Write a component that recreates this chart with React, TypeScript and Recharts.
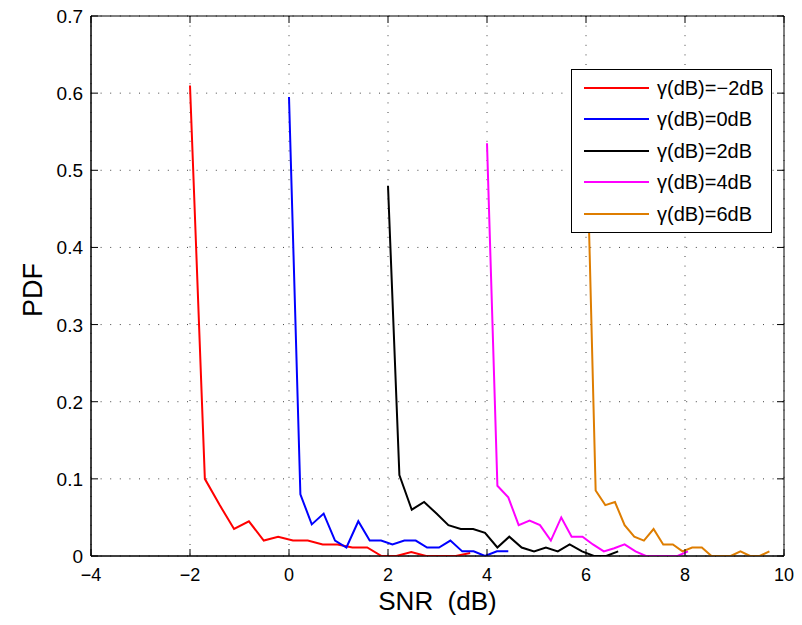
import React from "react";
import { LineChart, Line, XAxis, YAxis, CartesianGrid, Legend, ReferenceArea, Label } from "recharts";

// ---- data ----
const redX = [-2, -1.7, -1.4, -1.11, -0.81, -0.51, -0.22, 0.08, 0.38, 0.68, 0.98, 1.28, 1.58, 1.87, 2.17, 2.47, 2.77, 3.07, 3.37, 3.66];
const redY = [0.61, 0.1, 0.066, 0.035, 0.045, 0.02, 0.025, 0.02, 0.02, 0.015, 0.015, 0.011, 0.011, 0, 0, 0.005, 0, 0, 0, 0.004];

const blueX = [0, 0.23, 0.46, 0.7, 0.93, 1.16, 1.4, 1.63, 1.86, 2.09, 2.33, 2.56, 2.79, 3.03, 3.26, 3.5, 3.73, 3.96, 4.2, 4.43];
const blueY = [0.595, 0.08, 0.041, 0.055, 0.02, 0.011, 0.045, 0.02, 0.02, 0.015, 0.02, 0.02, 0.011, 0.011, 0.02, 0.006, 0.006, 0, 0.006, 0.006];

const blackX = [2.0, 2.23, 2.48, 2.73, 2.98, 3.22, 3.47, 3.72, 3.96, 4.21, 4.45, 4.7, 4.95, 5.19, 5.43, 5.67, 5.92, 6.16, 6.41, 6.65];
const blackY = [0.48, 0.105, 0.06, 0.07, 0.055, 0.04, 0.035, 0.035, 0.03, 0.011, 0.025, 0.011, 0.006, 0.011, 0.006, 0.015, 0.006, 0, 0, 0.006];

const magentaX = [4.0, 4.21, 4.43, 4.64, 4.86, 5.07, 5.29, 5.5, 5.71, 5.93, 6.14, 6.36, 6.57, 6.78, 7.0, 7.21, 7.42, 7.64, 7.85, 8.06];
const magentaY = [0.535, 0.091, 0.076, 0.04, 0.046, 0.04, 0.02, 0.05, 0.025, 0.025, 0.015, 0.006, 0.01, 0.015, 0.006, 0, 0, 0, 0, 0.006];

const orangeX = [6.0, 6.195, 6.39, 6.585, 6.78, 6.975, 7.17, 7.365, 7.56, 7.755, 7.95, 8.145, 8.34, 8.535, 8.73, 8.925, 9.12, 9.315, 9.51, 9.705];
const orangeY = [0.58, 0.085, 0.066, 0.07, 0.04, 0.025, 0.02, 0.035, 0.015, 0.015, 0.006, 0.011, 0.011, 0, 0, 0, 0.006, 0, 0, 0.006];

const xTicks = [-4, -2, 0, 2, 4, 6, 8, 10];
const yTicks = [0, 0.1, 0.2, 0.3, 0.4, 0.5, 0.6, 0.7];

const seriesNames = ["\u03b3(dB)=\u22122dB", "\u03b3(dB)=0dB", "\u03b3(dB)=2dB", "\u03b3(dB)=4dB", "\u03b3(dB)=6dB"];
const seriesColors = ["#ff0000", "#0000ff", "#000000", "#ff00ff", "#de7d00"];

const zip = (xs: number[], ys: number[]) => xs.map((x, i) => ({ x, y: ys[i] }));
const seriesData = [zip(redX, redY), zip(blueX, blueY), zip(blackX, blackY), zip(magentaX, magentaY), zip(orangeX, orangeY)];

// ---- layout ----
const W = 802;
const H = 625;
const PLOT = { left: 91, top: 16, right: 784, bottom: 556 };
const FONT = "'Liberation Sans', Arial, Helvetica, sans-serif";
const TICK_LEN = 7;

const fmt = (v: number) => (v < 0 ? "\u2212" + Math.abs(v) : String(Math.round(v * 10) / 10));

const XTick = (props: any) => {
  const { x, payload } = props;
  return (
    <g>
      <line x1={x} x2={x} y1={PLOT.bottom} y2={PLOT.bottom - TICK_LEN} stroke="#000" />
      <line x1={x} x2={x} y1={PLOT.top} y2={PLOT.top + TICK_LEN} stroke="#000" />
      <text x={x} y={581} textAnchor="middle" fontFamily={FONT} fontSize={18} fill="#000">
        {fmt(payload.value)}
      </text>
    </g>
  );
};

const YTick = (props: any) => {
  const { y, payload } = props;
  return (
    <g>
      <line x1={PLOT.left} x2={PLOT.left + TICK_LEN} y1={y} y2={y} stroke="#000" />
      <line x1={PLOT.right} x2={PLOT.right - TICK_LEN} y1={y} y2={y} stroke="#000" />
      <text x={83} y={y + 7} textAnchor="end" fontFamily={FONT} fontSize={19} fill="#000">
        {fmt(payload.value)}
      </text>
    </g>
  );
};

const renderLegend = () => (
  <div
    style={{
      boxSizing: "border-box",
      width: 201,
      height: 164,
      border: "1px solid #000",
      background: "#fff",
      paddingTop: 2,
      fontFamily: FONT,
      fontSize: 20,
      color: "#000",
    }}
  >
    {seriesNames.map((name, i) => (
      <div key={name} style={{ display: "flex", alignItems: "center", height: 31.5 }}>
        <span style={{ display: "inline-block", width: 65, height: 2, marginLeft: 12, background: seriesColors[i] }} />
        <span style={{ marginLeft: 8, lineHeight: "20px" }}>{name}</span>
      </div>
    ))}
  </div>
);

export default function App() {
  return (
    <div style={{ position: "absolute", left: 0, top: 0, width: W, height: H, background: "#fff" }}>
      <LineChart width={W} height={H} margin={{ top: PLOT.top, right: W - PLOT.right, left: 0, bottom: 0 }}>
        <CartesianGrid stroke="#444" strokeDasharray="1 8.6" />
        <XAxis
          type="number"
          dataKey="x"
          domain={[-4, 10]}
          ticks={xTicks}
          allowDataOverflow
          height={H - PLOT.bottom}
          tickLine={false}
          axisLine={{ stroke: "#000" }}
          tick={<XTick />}
          interval={0}
        >
          <Label
            content={(p: any) => {
              const vb = p.viewBox || {};
              return (
                <text
                  x={vb.x + vb.width / 2}
                  y={610}
                  textAnchor="middle"
                  fontFamily={FONT}
                  fontSize={26}
                  fill="#000"
                  style={{ whiteSpace: "pre" }}
                >
                  {"SNR  (dB)"}
                </text>
              );
            }}
          />
        </XAxis>
        <YAxis
          type="number"
          dataKey="y"
          domain={[0, 0.7]}
          ticks={yTicks}
          allowDataOverflow
          width={PLOT.left}
          tickLine={false}
          axisLine={{ stroke: "#000" }}
          tick={<YTick />}
          interval={0}
        >
          <Label
            content={() => (
              <text
                x={42}
                y={290}
                transform="rotate(-90 42 290)"
                textAnchor="middle"
                fontFamily={FONT}
                fontSize={27}
                fill="#000"
              >
                PDF
              </text>
            )}
          />
        </YAxis>
        {seriesData.map((d, i) => (
          <Line
            key={seriesNames[i]}
            data={d}
            dataKey="y"
            name={seriesNames[i]}
            stroke={seriesColors[i]}
            strokeWidth={2}
            dot={false}
            activeDot={false}
            isAnimationActive={false}
          />
        ))}
        <ReferenceArea x1={-4} x2={10} y1={0} y2={0.7} fill="none" stroke="#000" strokeWidth={1} ifOverflow="visible" />
        <Legend
          layout="vertical"
          align="center"
          verticalAlign="middle"
          content={renderLegend}
          wrapperStyle={{ position: "absolute", left: 571, top: 69, width: 201, height: 164 }}
        />
      </LineChart>
    </div>
  );
}
